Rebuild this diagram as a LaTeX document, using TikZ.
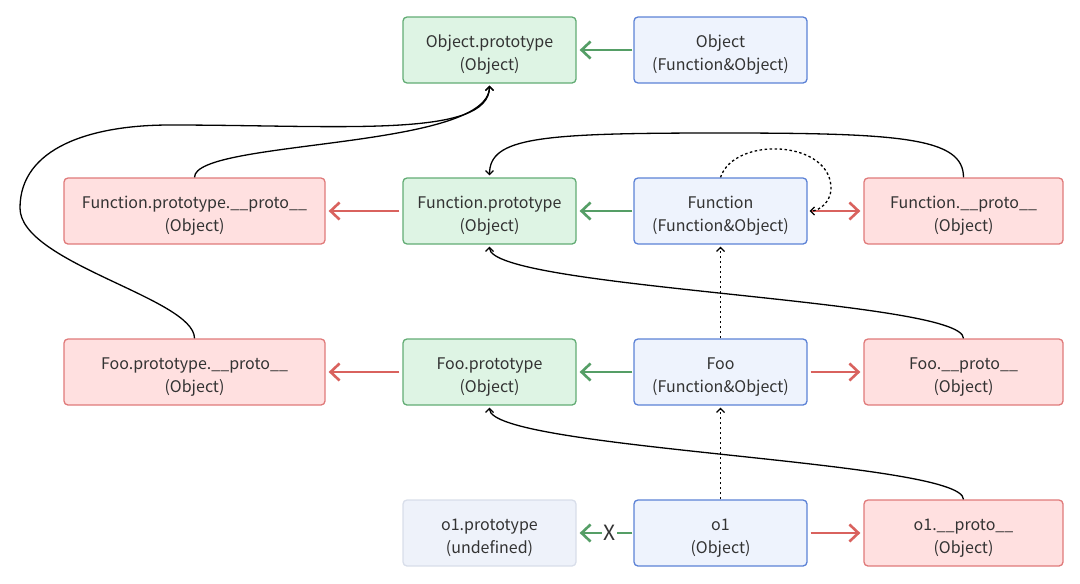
\documentclass[tikz,border=0pt]{standalone}
\usepackage{fontspec}
\setmainfont{Noto Sans CJK SC}
\usetikzlibrary{arrows.meta}
\definecolor{gfill}{HTML}{DEF4E4}
\definecolor{gdraw}{HTML}{62AC74}
\definecolor{garrow}{HTML}{559E66}
\definecolor{bfill}{HTML}{EEF3FD}
\definecolor{bdraw}{HTML}{5C82D6}
\definecolor{rfill}{HTML}{FFE0E0}
\definecolor{rdraw}{HTML}{E07A7A}
\definecolor{rarrow}{HTML}{D9625E}
\definecolor{ufill}{HTML}{EEF2FA}
\definecolor{udraw}{HTML}{D8DEEA}
\definecolor{txt}{HTML}{333333}
\newcommand\twoline[2]{\raisebox{-4pt}[\height][\depth]{\begin{tabular}{@{}c@{}}#1\\#2\end{tabular}}}
\begin{document}
\begin{tikzpicture}[x=1pt,y=-1pt,
  box/.style={rounded corners=4pt, line width=1.3pt, minimum height=66pt, inner sep=0pt,
    font=\fontsize{16}{23}\selectfont, text=txt},
  gbox/.style={box, fill=gfill, draw=gdraw, minimum width=173pt},
  bbox/.style={box, fill=bfill, draw=bdraw, minimum width=173pt},
  ubox/.style={box, fill=ufill, draw=udraw, minimum width=173pt},
  rbox/.style={box, fill=rfill, draw=rdraw},
  garr/.style={draw=garrow, line width=2.6pt, -{Straight Barb[length=9pt,width=17pt,line width=2.6pt]}, shorten >=3pt, shorten <=1pt},
  rarr/.style={draw=rarrow, line width=2.6pt, -{Straight Barb[length=9pt,width=17pt,line width=2.6pt]}, shorten >=3pt, shorten <=3pt},
  karr/.style={draw=black, line width=1.3pt, -{Straight Barb[length=4pt,width=8pt,line width=1.2pt]}, shorten >=2pt},
  darr/.style={karr, dash pattern=on 2.5pt off 2.5pt},
]
\useasboundingbox (0,0) rectangle (1080,584);
% row 1
\node[gbox] (op) at (489.5,50) {\twoline{Object.prototype}{(Object)}};
\node[bbox] (o) at (720.5,50) {\twoline{Object}{(Function\&Object)}};
% row 2
\node[rbox, minimum width=261pt] (fpp) at (194.5,211) {\twoline{Function.prototype.\_\_proto\_\_}{(Object)}};
\node[gbox] (fp) at (489.5,211) {\twoline{Function.prototype}{(Object)}};
\node[bbox] (f) at (720.5,211) {\twoline{Function}{(Function\&Object)}};
\node[rbox, minimum width=199pt] (fpro) at (963.5,211) {\twoline{Function.\_\_proto\_\_}{(Object)}};
% row 3
\node[rbox, minimum width=261pt] (foopp) at (194.5,372) {\twoline{Foo.prototype.\_\_proto\_\_}{(Object)}};
\node[gbox] (foop) at (489.5,372) {\twoline{Foo.prototype}{(Object)}};
\node[bbox] (foo) at (720.5,372) {\twoline{Foo}{(Function\&Object)}};
\node[rbox, minimum width=199pt] (foopro) at (963.5,372) {\twoline{Foo.\_\_proto\_\_}{(Object)}};
% row 4
\node[ubox] (o1p) at (489.5,533) {\twoline{o1.prototype}{(undefined)}};
\node[bbox] (o1) at (720.5,533) {\twoline{o1}{(Object)}};
\node[rbox, minimum width=199pt] (o1pro) at (963.5,533) {\twoline{o1.\_\_proto\_\_}{(Object)}};
% waypoints
\coordinate (c1) at (720,133);
\coordinate (c2) at (20,208);
\coordinate (c3) at (170,125);
\coordinate (c4) at (831,190);
% horizontal arrows
\draw[garr] (o) -- (op);
\draw[garr] (f) -- (fp);
\draw[rarr] (fp) -- (fpp);
\draw[rarr] (f) -- (fpro);
\draw[garr] (foo) -- (foop);
\draw[rarr] (foop) -- (foopp);
\draw[rarr] (foo) -- (foopro);
\draw[rarr] (o1) -- (o1pro);
\draw[garr] (o1) -- node[pos=0.42, fill=white, inner sep=1.5pt, font=\fontsize{21}{21}\selectfont, text=txt] (x) {X} (o1p);
% black curves
\draw[karr] (fpro.north) .. controls +(0,-40) and +(180,0) .. (c1) .. controls +(-180,0) and +(0,-40) .. (fp.north);
\draw[karr] (fpp.north) .. controls +(0,-38) and (489,150) .. (op.south);
\draw[karr] (foopp.north) .. controls +(0,-40) and +(0,55) .. (c2) .. controls +(0,-60) and +(-80,0) .. (c3) .. controls +(170,0) and +(0,55) .. (op.south);
\draw[karr] (foopro.north) .. controls +(0,-39) and +(0,44) .. (fp.south);
\draw[karr] (o1pro.north) .. controls +(0,-39) and +(0,44) .. (foop.south);
% dotted
\draw[darr] (foo.north) -- (f.south);
\draw[darr] (o1.north) -- (foo.south);
\draw[darr] (f.north) .. controls +(14,-42) and +(2,-50) .. (c4) .. controls +(-1,12) and +(12,0) .. (f.east);
\end{tikzpicture}
\end{document}
